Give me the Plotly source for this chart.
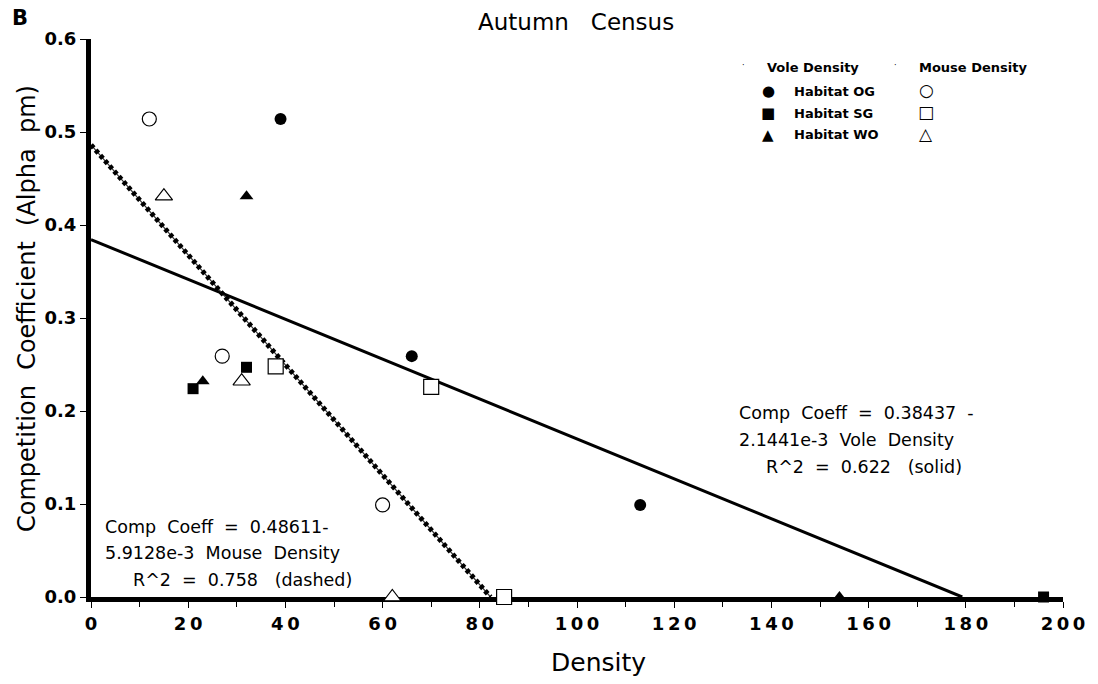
import plotly.graph_objects as go

# ---- data ----
og_y = [0.514, 0.259, 0.099]
sg_y_vole = [0.224, 0.247, 0.0]
wo_y_vole = [0.232, 0.431, 0.0]
sg_y_mouse = [0.226, 0.248, 0.0]
wo_y_mouse = [0.232, 0.431, 0.0]

vole_og_x = [39, 66, 113]
vole_sg_x = [21, 32, 196]
vole_wo_x = [23, 32, 154]

mouse_og_x = [12, 27, 60]
mouse_sg_x = [70, 38, 85]
mouse_wo_x = [31, 15, 62]

# regression lines (endpoints from the printed equations)
vole_fit_x = [0, 179.27]
vole_fit_y = [0.38437, 0.0]
mouse_fit_x = [0, 82.21]
mouse_fit_y = [0.48611, 0.0]

x_ticks = [0, 20, 40, 60, 80, 100, 120, 140, 160, 180, 200]
y_ticks = [0.0, 0.1, 0.2, 0.3, 0.4, 0.5, 0.6]

FONT = "DejaVu Sans"
NB = "\u00a0"
TS = "\u2009"

W, H = 1098, 684
L, R, T, B = 91, 1063, 39, 597

fig = go.Figure()

# fit lines
fig.add_trace(go.Scatter(x=vole_fit_x, y=vole_fit_y, mode="lines",
                         line=dict(color="black", width=3), cliponaxis=False, showlegend=False))
fig.add_trace(go.Scatter(x=mouse_fit_x, y=mouse_fit_y, mode="lines",
                         line=dict(color="#333", width=1.2), cliponaxis=False, showlegend=False))
fig.add_trace(go.Scatter(x=mouse_fit_x, y=mouse_fit_y, mode="lines",
                         line=dict(color="black", width=5, dash="4px,3px"), cliponaxis=False, showlegend=False))

def pts(x, y, sym, filled, size):
    fig.add_trace(go.Scatter(
        x=x, y=y, mode="markers", cliponaxis=False, showlegend=False,
        marker=dict(symbol=sym, size=size,
                    color="black" if filled else "white",
                    line=dict(color="black", width=0 if filled else 1.2))))

pts(vole_og_x, og_y, "circle", True, 12)
pts(vole_sg_x, sg_y_vole, "square", True, 11)
pts(vole_wo_x, wo_y_vole, "triangle-up", True, 12)
pts(mouse_og_x, og_y, "circle", False, 14)
pts(mouse_sg_x, sg_y_mouse, "square", False, 15)
pts(mouse_wo_x, wo_y_mouse, "triangle-up", False, 15)

def px(xp): return (xp - L) / (R - L)
def py(yp): return (B - yp) / (B - T)

ann = []
def text(x, y, s, size, xanchor="left", weight="normal", angle=0):
    ann.append(dict(x=px(x), y=py(y), xref="paper", yref="paper", text=s, showarrow=False,
                    xanchor=xanchor, yanchor="middle", textangle=angle,
                    font=dict(family=FONT, size=size, color="black", weight=weight)))

def sp(*words, n=2):
    return (NB * n).join(words)

# title, panel label, axis titles
text(576, 22, sp("Autumn", "Census", n=3), 23, xanchor="center")
text(10, 18, "<b>B</b>", 21)
text(598, 662, "Density", 25, xanchor="center")
text(27, 309, sp("Competition", "Coefficient", "(Alpha", "pm)"), 24,
     xanchor="center", angle=-90)

# equations (one annotation per printed line)
text(737, 413, sp("Comp", "Coeff", "=", "0.38437", "-"), 17.5)
text(737, 440, sp("2.1441e-3", "Vole", "Density"), 17.5)
text(764, 467, sp("R^2", "=", "0.622", NB + "(solid)"), 17.5)
text(103, 527, sp("Comp", "Coeff", "=", "0.48611-"), 17.5)
text(103, 553, sp("5.9128e-3", "Mouse", "Density"), 17.5)
text(131, 580, sp("R^2", "=", "0.758", NB + "(dashed)"), 17.5)

# legend (drawn as text)
text(765, 67, "<b>Vole Density</b>", 13)
text(917, 67, "<b>Mouse Density</b>", 13)
text(740, 66, "·", 8)
text(892, 66, "·", 8)
rows = [("Habitat OG", "●", "○", 91), ("Habitat SG", "■", "□", 113), ("Habitat WO", "▲", "△", 135)]
for lab, fs, os_, yy in rows:
    text(768, yy, fs, 15, xanchor="center")
    text(792, yy, "<b>" + lab + "</b>", 13)
    text(926, yy - 1, os_, 17, xanchor="center")

fig.update_layout(
    width=W, height=H,
    margin=dict(l=L, r=W - R, t=T, b=H - B),
    paper_bgcolor="white", plot_bgcolor="white",
    annotations=ann,
    xaxis=dict(range=[0, 200], tickvals=x_ticks, ticktext=[TS.join(str(v)) for v in x_ticks],
               showgrid=False, zeroline=False, showline=True, linecolor="black", linewidth=5,
               ticks="outside", ticklen=6, tickwidth=1, tickcolor="black",
               minor=dict(dtick=10, ticks="outside", ticklen=5, tickwidth=1, tickcolor="black"),
               tickfont=dict(family=FONT, size=18, color="black", weight="bold"), layer="below traces"),
    yaxis=dict(range=[0, 0.6], tickvals=y_ticks, ticktext=[f"{v:.1f}" for v in y_ticks],
               showgrid=False, zeroline=False, showline=True, linecolor="black", linewidth=5,
               ticks="outside", ticklen=6, tickwidth=1, tickcolor="black",
               tickfont=dict(family=FONT, size=18, color="black", weight="bold"), layer="below traces"),
)

fig.write_html("out.html")
